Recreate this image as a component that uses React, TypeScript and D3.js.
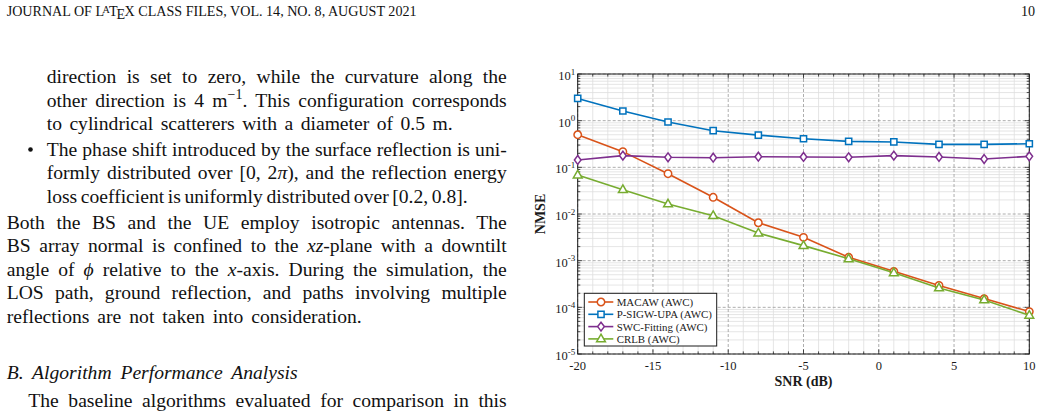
import React, { useRef, useEffect } from 'react';
import { select, scaleLinear, scaleLog, line, range } from 'd3';

// NMSE versus SNR for each estimator
const snrDb = [-20, -17, -14, -11, -8, -5, -2, 1, 4, 7, 10];
const macawNmse = [0.5, 0.217, 0.073, 0.0228, 0.0065, 0.00316, 0.00118, 0.00059, 0.000295, 0.000154, 0.000081];
const psigwNmse = [3.0, 1.61, 0.936, 0.61, 0.49, 0.41, 0.36, 0.35, 0.31, 0.31, 0.32];
const swcNmse = [0.144, 0.178, 0.164, 0.161, 0.169, 0.167, 0.164, 0.178, 0.167, 0.151, 0.172];
const crlbNmse = [0.0685, 0.0332, 0.0164, 0.0092, 0.0039, 0.0021, 0.0011, 0.00055, 0.00026, 0.000144, 0.0000674];

const seriesLabels = ['MACAW (AWC)', 'P-SIGW-UPA (AWC)', 'SWC-Fitting (AWC)', 'CRLB (AWC)'];
const xTickValues = [-20, -15, -10, -5, 0, 5, 10];
const yTickExponents = [-5, -4, -3, -2, -1, 0, 1];

const SERIF = "'Liberation Serif', 'Times New Roman', serif";

const markerPaths: Record<string, string> = {
  circle: 'M3.7,0A3.7,3.7 0 1,1 -3.7,0A3.7,3.7 0 1,1 3.7,0Z',
  square: 'M-3.1,-3.1H3.1V3.1H-3.1Z',
  diamond: 'M0,-4.4L3.3,0L0,4.4L-3.3,0Z',
  triangle: 'M0,-4.7L4.4,2.9H-4.4Z',
};

const series = [
  { label: seriesLabels[0], values: macawNmse, color: '#D95319', marker: 'circle' },
  { label: seriesLabels[1], values: psigwNmse, color: '#0072BD', marker: 'square' },
  { label: seriesLabels[2], values: swcNmse, color: '#7E2F8E', marker: 'diamond' },
  { label: seriesLabels[3], values: crlbNmse, color: '#77AC30', marker: 'triangle' },
];

// page text: [text, style] pieces, style '' | 'i' | 'sup'
type Piece = [string, string];
const bodyLines: { x: number; y: number; w?: number; pieces: Piece[] }[] = [
  { x: 46.7, y: 83.3, w: 460, pieces: [['direction is set to zero, while the curvature along the', '']] },
  { x: 46.7, y: 106.7, w: 460, pieces: [['other direction is 4 m', ''], ['\u22121', 'sup'], ['. This configuration corresponds', '']] },
  { x: 46.7, y: 130, w: 406, pieces: [['to cylindrical scatterers with a diameter of 0.5 m.', '']] },
  { x: 46.7, y: 155.5, w: 460, pieces: [['The phase shift introduced by the surface reflection is uni-', '']] },
  { x: 46.7, y: 179, w: 460, pieces: [['formly distributed over [0, 2', ''], ['\u03c0', 'i'], ['), and the reflection energy', '']] },
  { x: 46.7, y: 202.5, w: 421, pieces: [['loss coefficient is uniformly distributed over [0.2, 0.8].', '']] },
  { x: 6.7, y: 228.5, w: 500, pieces: [['Both the BS and the UE employ isotropic antennas. The', '']] },
  { x: 6.7, y: 252, w: 500, pieces: [['BS array normal is confined to the ', ''], ['xz', 'i'], ['-plane with a downtilt', '']] },
  { x: 6.7, y: 275.5, w: 500, pieces: [['angle of ', ''], ['\u03d5', 'i'], [' relative to the ', ''], ['x', 'i'], ['-axis. During the simulation, the', '']] },
  { x: 6.7, y: 299, w: 500, pieces: [['LOS path, ground reflection, and paths involving multiple', '']] },
  { x: 6.7, y: 322.5, w: 355, pieces: [['reflections are not taken into consideration.', '']] },
  { x: 6.7, y: 379, w: 291, pieces: [['B. Algorithm Performance Analysis', 'i']] },
  { x: 28.3, y: 407, w: 478.4, pieces: [['The baseline algorithms evaluated for comparison in this', '']] },
];

function PageText() {
  const gRef = useRef<SVGGElement>(null);

  // spread the inter-word gaps of each line to its measured width
  useEffect(() => {
    select(gRef.current)
      .selectAll<SVGTextElement, unknown>('text.justify')
      .each(function () {
        const target = +(this.getAttribute('data-width') || 0);
        const natural = this.getComputedTextLength();
        const gaps = (this.textContent || '').split(' ').length - 1;
        if (gaps > 0) select(this).attr('word-spacing', (target - natural) / gaps);
      });
  }, []);

  return (
    <g ref={gRef} fontFamily={SERIF} fill="#111">
      <text x={6.7} y={16} fontSize={14.1}>
        JOURNAL OF L
        <tspan dx={-1.6} dy={-2.6} fontSize={10.1}>A</tspan>
        <tspan dx={-0.8} dy={2.6}>T</tspan>
        <tspan dx={-1} dy={3.1}>E</tspan>
        <tspan dx={-0.6} dy={-3.1}>X</tspan>
        {' CLASS FILES, VOL. 14, NO. 8, AUGUST 2021'}
      </text>
      <text x={1035} y={16} fontSize={14.1} textAnchor="end">10</text>
      <circle cx={30.5} cy={149.5} r={2.3} fill="#111" />
      {bodyLines.map((ln, i) => (
        <text
          key={i}
          x={ln.x}
          y={ln.y}
          fontSize={19.6}
          className={ln.w ? 'justify' : undefined}
          data-width={ln.w}
          xmlSpace="preserve"
        >
          {ln.pieces.map(([t, s], j) =>
            s === 'sup' ? (
              <tspan key={j} fontSize={14} dy={-8}>{t}</tspan>
            ) : (
              <tspan key={j} fontStyle={s === 'i' ? 'italic' : undefined} dy={j > 0 && ln.pieces[j - 1][1] === 'sup' ? 8 : undefined}>{t}</tspan>
            )
          )}
        </text>
      ))}
    </g>
  );
}

function NmseChart() {
  const gRef = useRef<SVGGElement>(null);

  useEffect(() => {
    const g = select(gRef.current);
    g.selectAll('*').remove();

    const left = 577.7, right = 1029.3, top = 74, bottom = 354;
    const x = scaleLinear().domain([-20, 10]).range([left, right]);
    const y = scaleLog().domain([1e-5, 10]).range([bottom, top]);

    const xMinor = range(-20, 11).filter((v) => v % 5 !== 0);
    const yMajor = yTickExponents.map((e) => Math.pow(10, e));
    const yMinor = range(-5, 1).flatMap((e) => range(2, 10).map((k) => k * Math.pow(10, e)));

    g.append('rect')
      .attr('x', left).attr('y', top)
      .attr('width', right - left).attr('height', bottom - top)
      .attr('fill', '#fff');

    // minor grid
    const minor = g.append('g').attr('stroke', '#dedede').attr('stroke-width', 0.8);
    minor.selectAll('.vx').data(xMinor).join('line').attr('class', 'vx')
      .attr('x1', (d) => x(d)).attr('x2', (d) => x(d)).attr('y1', top).attr('y2', bottom);
    minor.selectAll('.hy').data(yMinor).join('line').attr('class', 'hy')
      .attr('y1', (d) => y(d)).attr('y2', (d) => y(d)).attr('x1', left).attr('x2', right);

    // major grid
    const major = g.append('g').attr('stroke', '#999').attr('stroke-width', 0.8).attr('stroke-dasharray', '3,2');
    major.selectAll('.vx').data(xTickValues).join('line').attr('class', 'vx')
      .attr('x1', (d) => x(d)).attr('x2', (d) => x(d)).attr('y1', top).attr('y2', bottom);
    major.selectAll('.hy').data(yMajor).join('line').attr('class', 'hy')
      .attr('y1', (d) => y(d)).attr('y2', (d) => y(d)).attr('x1', left).attr('x2', right);

    // ticks on all four sides, pointing inward
    const ticks = g.append('g').attr('stroke', '#222').attr('stroke-width', 0.8);
    const xTick = (vals: number[], len: number, cls: string) => {
      ticks.selectAll('.b' + cls).data(vals).join('line').attr('class', 'b' + cls)
        .attr('x1', (d) => x(d)).attr('x2', (d) => x(d)).attr('y1', bottom).attr('y2', bottom - len);
      ticks.selectAll('.t' + cls).data(vals).join('line').attr('class', 't' + cls)
        .attr('x1', (d) => x(d)).attr('x2', (d) => x(d)).attr('y1', top).attr('y2', top + len);
    };
    const yTick = (vals: number[], len: number, cls: string) => {
      ticks.selectAll('.l' + cls).data(vals).join('line').attr('class', 'l' + cls)
        .attr('y1', (d) => y(d)).attr('y2', (d) => y(d)).attr('x1', left).attr('x2', left + len);
      ticks.selectAll('.r' + cls).data(vals).join('line').attr('class', 'r' + cls)
        .attr('y1', (d) => y(d)).attr('y2', (d) => y(d)).attr('x1', right).attr('x2', right - len);
    };
    xTick(xTickValues, 4.5, 'maj');
    xTick(xMinor, 2.6, 'min');
    yTick(yMajor, 4.5, 'maj');
    yTick(yMinor, 2.6, 'min');

    g.append('rect')
      .attr('x', left).attr('y', top)
      .attr('width', right - left).attr('height', bottom - top)
      .attr('fill', 'none').attr('stroke', '#1a1a1a').attr('stroke-width', 1);

    // tick labels
    const labels = g.append('g').attr('font-family', SERIF).attr('fill', '#1a1a1a');
    labels.selectAll('.xl').data(xTickValues).join('text').attr('class', 'xl')
      .attr('x', (d) => x(d)).attr('y', bottom + 16)
      .attr('font-size', 12.5).attr('text-anchor', 'middle')
      .text((d) => (d < 0 ? '-' + Math.abs(d) : String(d)));

    const yl = labels.selectAll('.yl').data(yTickExponents).join('text').attr('class', 'yl')
      .attr('x', left - 2.5).attr('y', (d) => y(Math.pow(10, d)) + 6)
      .attr('font-size', 12.5).attr('text-anchor', 'end');
    yl.append('tspan').text('10');
    yl.append('tspan').attr('font-size', 9).attr('dy', -5.2)
      .text((d) => (d < 0 ? '-' + Math.abs(d) : String(d)));

    labels.append('text')
      .attr('x', (left + right) / 2).attr('y', 386)
      .attr('font-size', 14).attr('font-weight', 'bold').attr('text-anchor', 'middle')
      .text('SNR (dB)');
    labels.append('text')
      .attr('transform', `translate(545,${(top + bottom) / 2}) rotate(-90)`)
      .attr('font-size', 14).attr('font-weight', 'bold').attr('text-anchor', 'middle')
      .text('NMSE');

    // curves and markers
    const path = line<number>().x((_, i) => x(snrDb[i])).y((d) => y(d));
    series.forEach((s) => {
      const sg = g.append('g');
      sg.append('path')
        .attr('d', path(s.values))
        .attr('fill', 'none').attr('stroke', s.color).attr('stroke-width', 1.6);
      sg.selectAll('.m').data(s.values).join('path').attr('class', 'm')
        .attr('transform', (d, i) => `translate(${x(snrDb[i])},${y(d)})`)
        .attr('d', markerPaths[s.marker])
        .attr('fill', '#fff').attr('stroke', s.color).attr('stroke-width', 1.5);
    });

    // legend
    const lg = g.append('g');
    lg.append('rect')
      .attr('x', 584.3).attr('y', 293.3).attr('width', 132.4).attr('height', 52.7)
      .attr('fill', '#fff').attr('stroke', '#1a1a1a').attr('stroke-width', 1);
    const rows = lg.selectAll('.row').data(series).join('g').attr('class', 'row')
      .attr('transform', (_, i) => `translate(0,${302 + i * 12.3})`);
    rows.append('line')
      .attr('x1', 588.3).attr('x2', 613.3)
      .attr('stroke', (d) => d.color).attr('stroke-width', 1.6);
    rows.append('path')
      .attr('transform', 'translate(601,0)')
      .attr('d', (d) => markerPaths[d.marker])
      .attr('fill', '#fff').attr('stroke', (d) => d.color).attr('stroke-width', 1.5);
    rows.append('text')
      .attr('x', 616.7).attr('y', 4)
      .attr('font-family', SERIF).attr('font-size', 10.9).attr('fill', '#1a1a1a')
      .text((d) => d.label);
  }, []);

  return <g ref={gRef} />;
}

export default function App() {
  return (
    <svg
      width={1042}
      height={415}
      style={{ position: 'absolute', left: 0, top: 0, background: '#fff' }}
    >
      <rect width={1042} height={415} fill="#fff" />
      <PageText />
      <NmseChart />
    </svg>
  );
}
